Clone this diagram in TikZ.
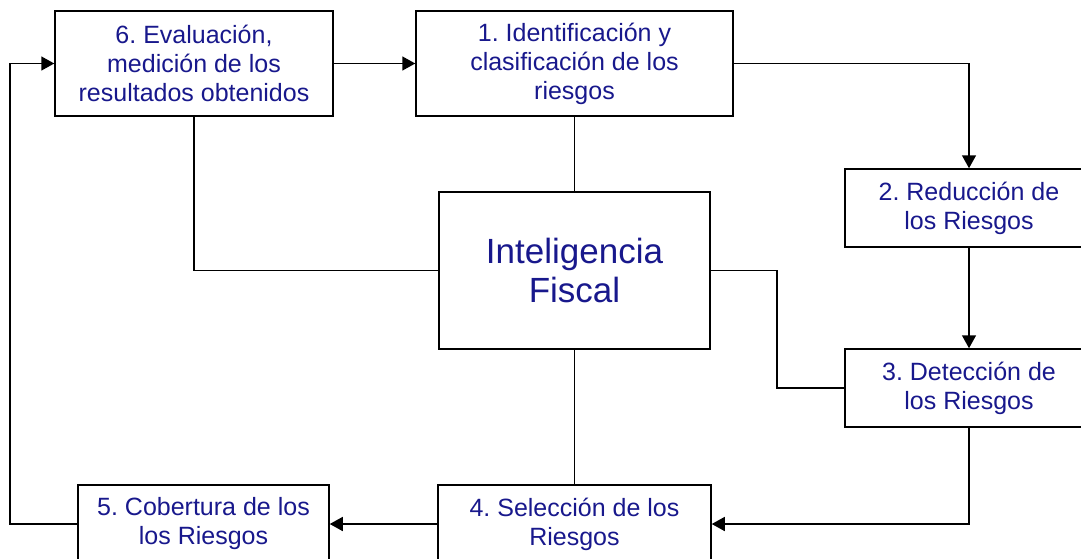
\documentclass[tikz,border=0pt]{standalone}
\usepackage{fontspec}
\setmainfont{Liberation Sans}
\usetikzlibrary{arrows.meta}
\definecolor{textblue}{RGB}{24,24,140}
\frenchspacing
\begin{document}
\begin{tikzpicture}[x=1pt,y=-1pt,
    box/.style={draw,line width=1.5pt,align=center,inner sep=0pt,
        text=textblue,font=\fontsize{25}{29}\selectfont},
    link/.style={line width=1.5pt},
    arrowlink/.style={line width=1.5pt,-{Triangle[length=13pt,width=14pt]}}]
            \useasboundingbox (0,0) rectangle (1081,559);
            \clip (0,0) rectangle (1081,559);
            \node[box,minimum width=278pt,minimum height=105pt] (eval) at (194,63.5) {6. Evaluación,\\medición de los\\resultados obtenidos};
            \node[box,minimum width=317pt,minimum height=105pt] (ident) at (574.5,63.5) {1. Identificación y\\clasificación de los\\riesgos};
            \node[box,minimum width=248pt,minimum height=78pt] (reduc) at (969,208) {2. Reducción de\\los Riesgos};
            \node[box,minimum width=248pt,minimum height=78pt] (detec) at (969,388) {3. Detección de\\los Riesgos};
            \node[box,minimum width=273pt,minimum height=78pt] (selec) at (574.5,524) {4. Selección de los\\Riesgos};
            \node[box,minimum width=251pt,minimum height=78pt] (cober) at (203.5,524) {5. Cobertura de los\\los Riesgos};
            \node[box,minimum width=271pt,minimum height=157pt,font=\fontsize{35}{39}\selectfont] (intel) at (574.5,270.5) {Inteligencia\\Fiscal};
            \coordinate (back) at (10,300);
            \coordinate (bend) at (777,330);
            \draw[arrowlink] (eval.east) -- (ident.west);
            \draw[arrowlink] (ident.east) -| (reduc.north);
            \draw[arrowlink] (reduc.south) -- (detec.north);
            \draw[arrowlink] (detec.south) |- (selec.east);
            \draw[arrowlink] (selec.west) -- (cober.east);
            \draw[arrowlink] (cober.west) -- (cober.west -| back) |- (eval.west);
            \draw[link] (eval.south) |- (intel.west);
            \draw[link] (ident.south) -- (intel.north);
            \draw[link] (intel.east) -- (intel.east -| bend) -- (bend |- detec.west) -- (detec.west);
            \draw[link] (intel.south) -- (selec.north);
        \end{tikzpicture}
\end{document}
